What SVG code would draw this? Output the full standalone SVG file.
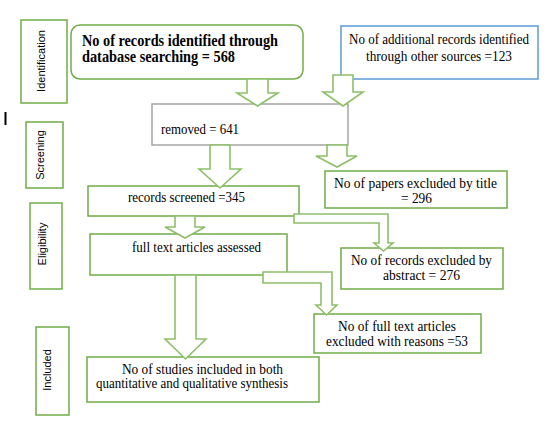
<svg xmlns="http://www.w3.org/2000/svg" width="552" height="434" viewBox="0 0 552 434">
<style>
.bg{fill:#ffffff}
.box{fill:#ffffff;stroke:#70ad47;stroke-width:1.5}
.lab{fill:#ffffff;stroke:#70ad47;stroke-width:1.5}
.grey{fill:#ffffff;stroke:#a5a5a5;stroke-width:1.5}
.blue{fill:#ffffff;stroke:#5b9bd5;stroke-width:1.5}
.arr{fill:#ffffff;stroke:#8cc068;stroke-width:1.6;stroke-linejoin:miter}
.t{font-family:"Liberation Serif","Times New Roman",serif;font-size:14px;fill:#000000}
.tb{font-family:"Liberation Serif","Times New Roman",serif;font-size:16px;font-weight:bold;fill:#000000}
.side{font-family:"Liberation Sans",Arial,sans-serif;font-size:11px;fill:#000000;text-anchor:middle}
</style>
<rect class="bg" x="0" y="0" width="552" height="434"/>
<line x1="5.5" y1="112" x2="5.5" y2="125" stroke="#000000" stroke-width="2"/>

<g id="label-identification">
<rect class="lab" x="21" y="20" width="46" height="83"/>
<text class="side" transform="translate(45,61) rotate(-90)">Identification</text>
</g>
<g id="label-screening">
<rect class="lab" x="26" y="122" width="37" height="66"/>
<text class="side" transform="translate(44,155) rotate(-90)">Screening</text>
</g>
<g id="label-eligibility">
<rect class="lab" x="30" y="203" width="32" height="86"/>
<text class="side" transform="translate(46,244) rotate(-90)">Eligibility</text>
</g>
<g id="label-included">
<rect class="lab" x="36" y="327" width="33" height="88"/>
<text class="side" transform="translate(51,370) rotate(-90)">Included</text>
</g>

<g id="node-database">
<rect class="box" x="71" y="25" width="232" height="54" rx="9" ry="9"/>
<text class="tb" x="82" y="46" textLength="196" lengthAdjust="spacingAndGlyphs">No of records identified through</text>
<text class="tb" x="82" y="62" textLength="153" lengthAdjust="spacingAndGlyphs">database searching = 568</text>
</g>
<g id="node-other">
<rect class="blue" x="341" y="26" width="197" height="53"/>
<text class="t" x="349" y="44" textLength="180" lengthAdjust="spacingAndGlyphs">No of additional records identified</text>
<text class="t" x="366" y="61" textLength="146" lengthAdjust="spacingAndGlyphs">through other sources =123</text>
</g>
<g id="node-removed">
<rect class="grey" x="152" y="104" width="196" height="41"/>
<text class="t" x="161" y="134" textLength="78" lengthAdjust="spacingAndGlyphs">removed = 641</text>
</g>
<g id="node-title-excluded">
<rect class="box" x="325" y="171" width="182" height="37"/>
<text class="t" x="334" y="188" textLength="163" lengthAdjust="spacingAndGlyphs">No of papers excluded by title</text>
<text class="t" x="401" y="203" textLength="31" lengthAdjust="spacingAndGlyphs">= 296</text>
</g>
<g id="node-screened">
<rect class="box" x="88" y="186" width="211" height="30"/>
<text class="t" x="128" y="202" textLength="117" lengthAdjust="spacingAndGlyphs">records screened =345</text>
</g>
<g id="node-abstract-excluded">
<rect class="box" x="341" y="248" width="162" height="41"/>
<text class="t" x="351" y="265" textLength="141" lengthAdjust="spacingAndGlyphs">No of records excluded by</text>
<text class="t" x="383" y="280" textLength="77" lengthAdjust="spacingAndGlyphs">abstract = 276</text>
</g>
<g id="node-fulltext">
<rect class="box" x="90" y="234" width="197" height="41"/>
<text class="t" x="132" y="252" textLength="129" lengthAdjust="spacingAndGlyphs">full text articles assessed</text>
</g>
<g id="node-fulltext-excluded">
<rect class="box" x="314" y="314" width="167" height="39"/>
<text class="t" x="338" y="331" textLength="118" lengthAdjust="spacingAndGlyphs">No of full text articles</text>
<text class="t" x="326" y="346" textLength="142" lengthAdjust="spacingAndGlyphs">excluded with reasons =53</text>
</g>
<g id="node-included">
<rect class="box" x="87" y="357" width="232" height="45"/>
<text class="t" x="122" y="374" textLength="161" lengthAdjust="spacingAndGlyphs">No of studies included in both</text>
<text class="t" x="96" y="388" textLength="192" lengthAdjust="spacingAndGlyphs">quantitative and qualitative synthesis</text>
</g>

<g id="connectors">
<polygon class="arr" points="247,79 268,79 268,93 278,93 257.5,106 237,93 247,93"/>
<polygon class="arr" points="333,75 353,75 353,92 363,92 343,106 323,92 333,92"/>
<polygon class="arr" points="210,145 230,145 230,169 241,169 220,188 199,169 210,169"/>
<polygon class="arr" points="327,145 347,145 347,156 357,156 337,167 316,156 327,156"/>
<polygon class="arr" points="175,216 195,216 195,227 205,227 185,238 165,227 175,227"/>
<polygon class="arr" points="294,214 388,214 388,243 393,243 383.5,251 374,243 379,243 379,223 294,223"/>
<polygon class="arr" points="175,275 196,275 196,339 206,339 185.5,359 165,339 175,339"/>
<polygon class="arr" points="263,272 332,272 332,305 337,305 326.5,315 316,305 321,305 321,283 263,283"/>
</g>
</svg>
